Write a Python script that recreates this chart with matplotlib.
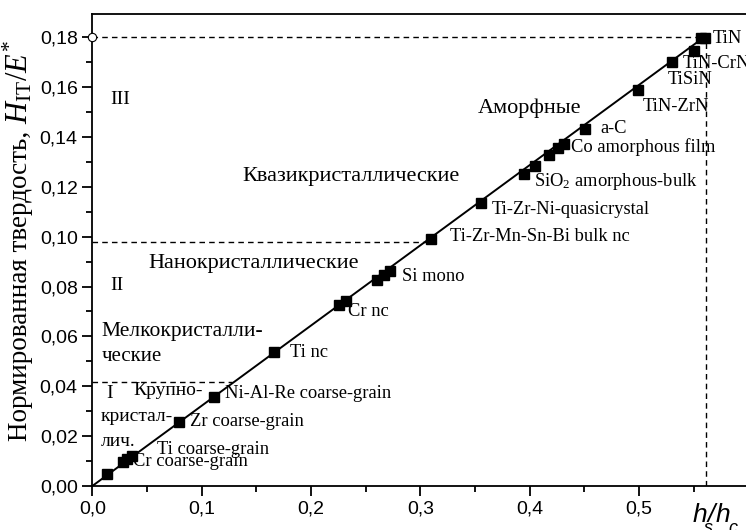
import matplotlib
matplotlib.use('Agg')
import matplotlib.pyplot as plt
from matplotlib.ticker import MultipleLocator, FuncFormatter

plt.rcParams['mathtext.fontset'] = 'custom'
plt.rcParams['mathtext.rm'] = 'Liberation Serif'
plt.rcParams['mathtext.it'] = 'Liberation Serif:italic'

# measured points h_s/h_c vs H_IT/E*
hs_hc = [0.013, 0.028, 0.032, 0.036, 0.079, 0.111, 0.1665, 0.2256, 0.2316,
         0.2607, 0.2667, 0.2722, 0.3095, 0.3554, 0.3945, 0.4051, 0.418,
         0.4257, 0.4317, 0.451, 0.4995, 0.530, 0.5503, 0.557, 0.5607]
h_e = [0.0047, 0.0095, 0.011, 0.012, 0.0258, 0.0358, 0.0537, 0.0726, 0.0742,
       0.0826, 0.0846, 0.0864, 0.099, 0.1137, 0.1252, 0.1285, 0.1328,
       0.1355, 0.1372, 0.1431, 0.1588, 0.170, 0.1746, 0.1796, 0.1796]

# fitted line end points
line_x = [0.0, 0.562]
line_y = [0.0, 0.1808]

# material labels: text, x, y
labels = ['Cr coarse-grain', 'Ti coarse-grain', 'Zr coarse-grain',
          'Ni-Al-Re coarse-grain', 'Ti nc', 'Cr nc', 'Si mono',
          'Ti-Zr-Mn-Sn-Bi bulk nc', 'Ti-Zr-Ni-quasicrystal',
          r'SiO$_2$ amorphous-bulk', 'Co amorphous film', 'a-C',
          'TiN-ZrN', 'TiSiN', 'TiN-CrN', 'TiN']
label_x = [0.0376, 0.0596, 0.0896, 0.121, 0.181, 0.2337, 0.2836, 0.3272,
           0.3652, 0.4042, 0.4379, 0.4647, 0.5036, 0.5265, 0.540, 0.5677]
label_y = [0.0098, 0.0148, 0.0258, 0.0369, 0.0537, 0.0699, 0.084, 0.100,
           0.1107, 0.122, 0.1361, 0.1435, 0.1524, 0.1629, 0.1696, 0.1796]

# region names
regions = ['III', 'Квазикристаллические', 'Нанокристаллические', 'II',
           'Аморфные', 'Мелкокристалли-', 'ческие', 'I', 'Крупно-',
           'кристал-', 'лич.']
region_x = [0.0254, 0.1375, 0.0513, 0.0224, 0.353, 0.0083, 0.0083, 0.0162,
            0.0376, 0.0077, 0.0077]
region_y = [0.155, 0.1243, 0.0893, 0.0806, 0.1515, 0.0618, 0.052, 0.0372,
            0.0385, 0.0278, 0.0178]
region_ha = ['center', 'left', 'left', 'center', 'left', 'left', 'left',
             'center', 'left', 'left', 'left']
region_fs = [14, 16, 16, 14, 16, 15.5, 15, 14, 14, 14, 14]

# boundaries
bound_y = [0.18, 0.098, 0.0418]
bound_x = [0.557, 0.3095, 0.128]
vline_x = 0.5617

fig = plt.figure(figsize=(7.46, 5.30), dpi=100)
ax = fig.add_axes([92.3 / 746, 44 / 530, 656 / 746, 472 / 530])

ax.plot(line_x, line_y, color='black', lw=1.4, zorder=2)
ax.plot(hs_hc, h_e, 's', color='black', ms=7, zorder=3)

for yb, xb in zip(bound_y, bound_x):
    ax.plot([0, xb], [yb, yb], '--', color='black', lw=1.0, dashes=(4, 3))
ax.plot([vline_x, vline_x], [0, bound_y[0]], '--', color='black', lw=1.0,
        dashes=(4, 3))
ax.plot([0], [bound_y[0]], 'o', mfc='white', mec='black', ms=6, mew=0.8,
        clip_on=False, zorder=4)

serif = 'Liberation Serif'
for t, x, y in zip(labels, label_x, label_y):
    ax.text(x, y, t, fontsize=13.3, family=serif, ha='left', va='center')
for t, x, y, ha, fs in zip(regions, region_x, region_y, region_ha, region_fs):
    ax.text(x, y, t, fontsize=fs, family=serif, ha=ha, va='center')

ax.set_xlim(0, 0.6)
ax.set_ylim(0, 0.1893)
ax.xaxis.set_major_locator(MultipleLocator(0.1))
ax.xaxis.set_minor_locator(MultipleLocator(0.05))
ax.yaxis.set_major_locator(MultipleLocator(0.02))
ax.yaxis.set_minor_locator(MultipleLocator(0.01))
ax.xaxis.set_major_formatter(FuncFormatter(
    lambda v, p: ('%.1f' % v).replace('.', ',') if v < 0.55 else ''))
ax.yaxis.set_major_formatter(FuncFormatter(
    lambda v, p: ('%.2f' % v).replace('.', ',')))
ax.tick_params(which='both', direction='out', width=1.3, labelsize=14)
ax.tick_params(which='major', length=7)
ax.tick_params(which='minor', length=4)
for lab in ax.get_xticklabels() + ax.get_yticklabels():
    lab.set_family('Liberation Sans')
ax.spines['right'].set_visible(False)
for s in ['left', 'bottom', 'top']:
    ax.spines[s].set_linewidth(1.3)


def px(x, y):
    return x / 746, 1 - y / 530


# y axis name: Cyrillic part as plain text, symbol part as mathtext after it
rot = dict(rotation=90, rotation_mode='anchor', ha='left', va='baseline')
t1 = fig.text(*px(27, 441), 'Нормированная твердость, ', fontsize=19.5,
              family=serif, **rot)
fig.canvas.draw()
bb = t1.get_window_extent()
fig.text(*px(27, 530 - bb.y1), r'$\it{H}_{\rm IT}/\it{E}^{*}$', fontsize=22,
         family=serif, **rot)

# x axis name h_s/h_c, placed piece by piece in pixel positions
sans_it = dict(family='Liberation Sans', style='italic', va='baseline')
fig.text(*px(693, 521.5), 'h', fontsize=19, **sans_it)
fig.text(*px(704, 533), 's', fontsize=13, **sans_it)
fig.text(*px(708, 521.5), '/', fontsize=19, **sans_it)
fig.text(*px(716, 521.5), 'h', fontsize=19, **sans_it)
fig.text(*px(728.5, 533), 'c', fontsize=13, **sans_it)

fig.savefig('out.png', dpi=100)
